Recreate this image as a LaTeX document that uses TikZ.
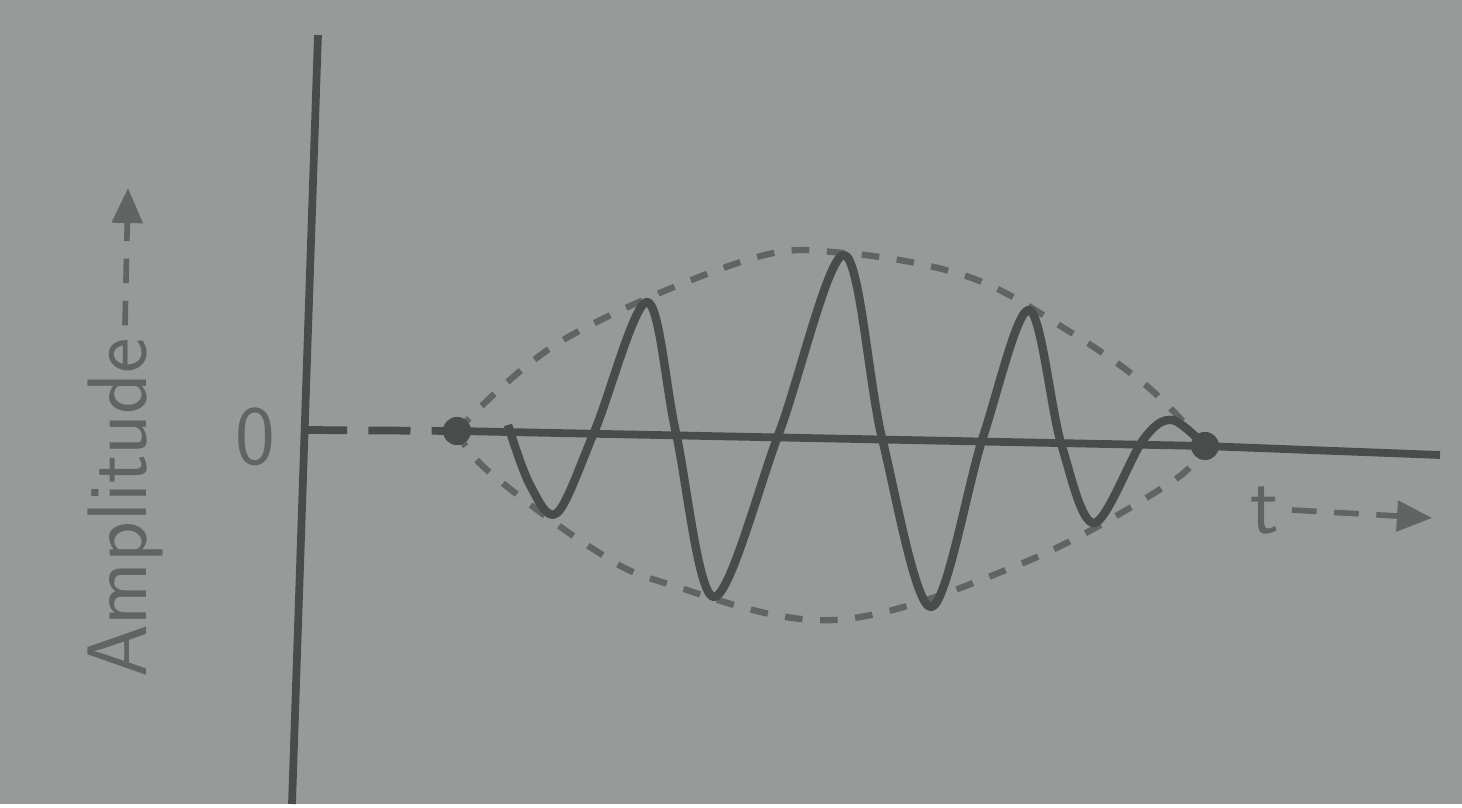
\documentclass[tikz,border=0pt]{standalone}
\usepackage{tikz}
\usetikzlibrary{arrows.meta}
\definecolor{paper}{RGB}{151,154,152}
\definecolor{ink}{RGB}{72,76,74}
\definecolor{inkSoft}{RGB}{96,100,98}
\begin{document}
\begin{tikzpicture}[x=0.01cm,y=-0.01cm,font=\sffamily\fontsize{24}{28}\selectfont,
  axis/.style={draw=ink,line width=2.2pt},
  env/.style={draw=inkSoft,line width=1.8pt,dash pattern=on 5pt off 5pt},
  wave/.style={draw=ink,line width=2.4pt,line join=round},
  lbl/.style={text=inkSoft,inner sep=0pt},
  pointer/.style={draw=inkSoft,line width=1.6pt,dash pattern=on 7pt off 5pt,-{Triangle[length=3.5mm,width=3mm]}}]
\fill[paper] (0,0) rectangle (1462,804);
\coordinate (ytop) at (318,35);
\coordinate (ybot) at (292,804);
\coordinate (origin) at (305,430);
\coordinate (ltip) at (457,431);
\coordinate (rtip) at (1205,446);
\coordinate (xend) at (1440,455);
\draw[axis] (ytop) -- (ybot);
\draw[axis,dash pattern=on 12pt off 6pt] (origin) -- (ltip);
\draw[axis] (ltip) -- (rtip) -- (xend);
\draw[env] plot[smooth,tension=0.6] coordinates {(ltip) (563,340) (747,260) (844,253) (969,277) (1067,330) (1148,387) (rtip)};
\draw[env] plot[smooth,tension=0.6] coordinates {(ltip) (487,470) (590,547) (665,583) (834,620) (1023,563) (1170,483) (rtip)};
\fill[ink] (ltip) circle (4pt);
\fill[ink] (rtip) circle (4pt);
\draw[wave] plot[smooth,tension=0.55] coordinates {(508,425) (530,485) (557,513) (595,430) (647,302) (676,433) (714,597) (779,433) (844,255) (882,438) (931,607) (983,437) (1029,310) (1061,443) (1094,523) (1143,440) (1172,420) (rtip)};
\node[lbl] (zero) at (255,437) {0};
\node[lbl,rotate=90] (amp) at (125,508) {Amplitude};
\coordinate (amptip) at (128,188);
\draw[pointer] (amp.east) ++(0,-12) -- (amptip);
\node[lbl] (tlbl) at (1265,510) {t};
\coordinate (ttip) at (1432,518);
\draw[pointer] (tlbl.east) ++(12,0) -- (ttip);
\end{tikzpicture}
\end{document}
